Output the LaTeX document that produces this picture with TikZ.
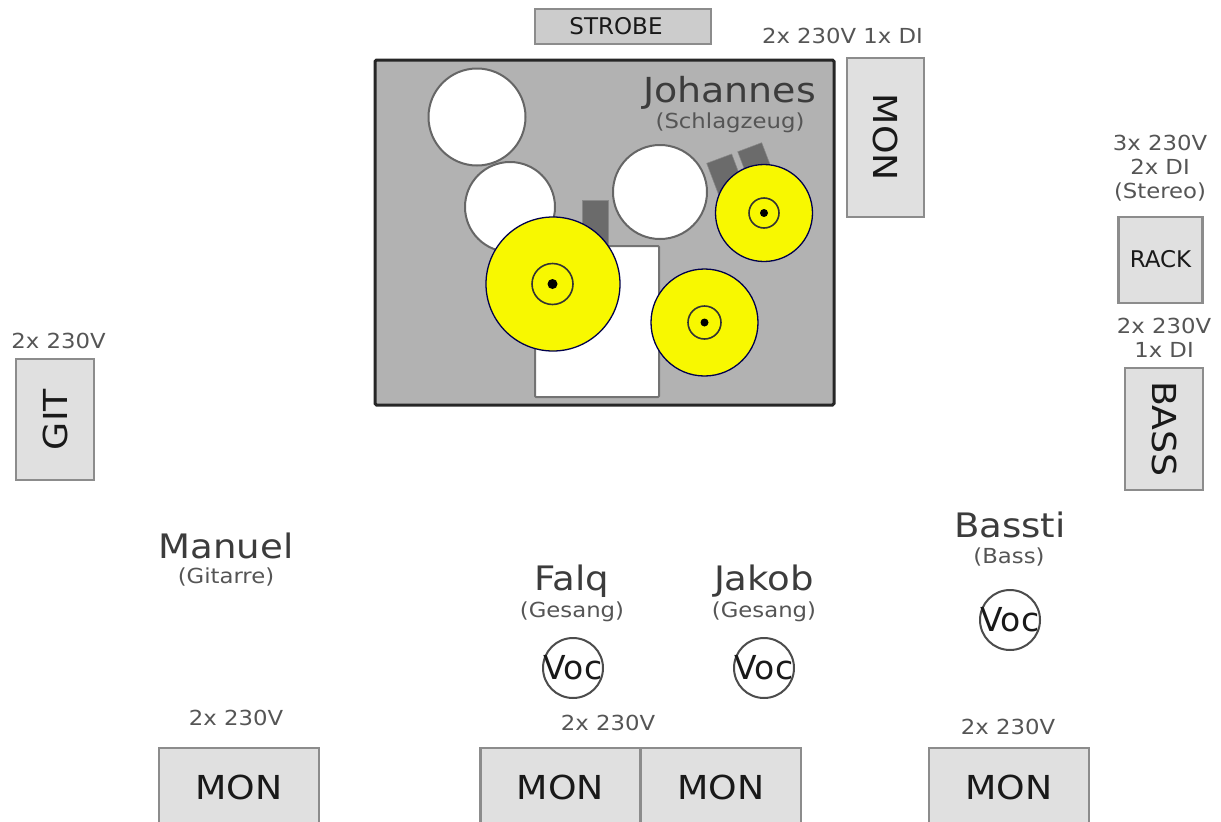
\documentclass[tikz,border=0pt]{standalone}
\usepackage{fontspec}
\setmainfont[FakeStretch=1.1]{DejaVu Sans}
\newfontfamily\plainfont{DejaVu Sans}
\definecolor{boxfill}{HTML}{E0E0E0}
\definecolor{boxline}{HTML}{8C8C8C}
\definecolor{stagefill}{HTML}{B2B2B2}
\definecolor{pedal}{HTML}{6B6B6B}
\definecolor{cym}{HTML}{F8F800}
\definecolor{txt}{HTML}{555555}
\definecolor{nametxt}{HTML}{3C3C3C}
\begin{document}
\begin{tikzpicture}[x=1pt,y=-1pt,
  gear/.style={draw=boxline,line width=2.4pt,fill=boxfill,inner sep=0pt,text=black!90,font=\fontsize{33}{33}\selectfont},
  smallgear/.style={gear,font=\plainfont\fontsize{23}{23}\selectfont},
  note/.style={inner sep=0pt,align=center,text=txt,font=\fontsize{20.7}{24}\selectfont},
  person/.style={inner sep=0pt,text=nametxt,font=\fontsize{33.7}{33.7}\selectfont},
  role/.style={inner sep=0pt,text=txt,font=\fontsize{20.7}{20.7}\selectfont},
  drum/.style={circle,draw=black!60,line width=2pt,fill=white,inner sep=0pt},
  cymbal/.style={circle,draw=black!70!blue,line width=1.3pt,fill=cym,inner sep=0pt},
  bell/.style={circle,draw=black!80,line width=1.6pt,inner sep=0pt},
  hub/.style={circle,fill=black,inner sep=0pt},
  vocal/.style={circle,draw=black!70,line width=2pt,fill=white,inner sep=0pt,minimum size=60pt,text=black!90,font=\plainfont\fontsize{33}{33}\selectfont},
  stagebox/.style={draw=black!85,line width=3pt,fill=stagefill,rounded corners=1.5pt},
  pedalbox/.style={fill=pedal,draw=pedal!80!white,line width=.5pt}]
\useasboundingbox (0,0) rectangle (1221,822);
\node[smallgear,fill=black!20,minimum width=176pt,minimum height=35pt] (strobe) at (623,26.5) {\hspace{-14pt}STROBE};
\draw[stagebox] (375,60) rectangle (834,405);
\node[drum,minimum size=97pt] (tomA) at (477,117) {};
\node[drum,minimum size=90pt] (tomB) at (510,207) {};
\node[drum,minimum size=94pt] (tomC) at (660,192) {};
\draw[pedalbox] (582,200) rectangle (608,250);
\draw[pedalbox] (706.7,163.3) -- (731.7,154) -- (746,192) -- (721,201) -- cycle;
\draw[pedalbox] (737.7,151.7) -- (761.7,142.7) -- (776,180) -- (752,189) -- cycle;
\draw[draw=black!55,line width=2pt,fill=white,rounded corners=1pt] (535,246) rectangle (659,397);
\node[cymbal,minimum size=134pt] (cymA) at (553,284) {};
\node[bell,minimum size=41pt] (bellA) at (552.5,284) {};
\node[hub,minimum size=10pt] (hubA) at (552.5,284) {};
\node[cymbal,minimum size=107pt] (cymB) at (704.5,322.5) {};
\node[bell,minimum size=33pt] (bellB) at (704.5,322.5) {};
\node[hub,minimum size=8pt] (hubB) at (704.5,322.5) {};
\node[cymbal,minimum size=97pt] (cymC) at (764,213) {};
\node[bell,minimum size=30pt] (bellC) at (764,213) {};
\node[hub,minimum size=8pt] (hubC) at (764,213) {};
\node[person,font=\fontsize{34.5}{34.5}\selectfont] (johannes) at (729.5,93) {Johannes};
\node[role] (schlagzeug) at (730,123) {(Schlagzeug)};
\node[gear,rotate=-90,minimum width=159pt,minimum height=77pt] (monD) at (885.5,137.5) {MON};
\node[note] (noteD) at (842.5,36) {2x 230V 1x DI};
\node[note] (noteR) at (1160,168) {3x 230V\\2x DI\\(Stereo)};
\node[gear,font=\plainfont\fontsize{23}{23}\selectfont,minimum width=84pt,minimum height=86pt] (rack) at (1160.5,260) {\raisebox{3pt}{RACK}};
\node[note] (noteB) at (1164,338) {2x 230V\\1x DI};
\node[gear,rotate=-90,minimum width=122pt,minimum height=78pt] (bass) at (1164,429) {BASS};
\node[note] (noteG) at (58.5,341) {2x 230V};
\node[gear,rotate=90,minimum width=121pt,minimum height=78pt] (git) at (55,419.5) {GIT};
\node[person] (manuel) at (226,546) {Manuel};
\node[role] (gitarre) at (226,577) {(Gitarre)};
\node[person] (falq) at (572,581) {Falq};
\node[role] (gesangF) at (572,612) {(Gesang)};
\node[person] (jakob) at (764,581) {Jakob};
\node[role] (gesangJ) at (764,612) {(Gesang)};
\node[person] (bassti) at (1010,525) {Bassti};
\node[role] (bassR) at (1009,557) {(Bass)};
\node[vocal] (vocF) at (573,668) {\makebox[0pt]{Voc}};
\node[vocal] (vocJ) at (764,668) {\makebox[0pt]{Voc}};
\node[vocal] (vocB) at (1010,620) {\makebox[0pt]{Voc}};
\node[note] (noteM) at (236,718) {2x 230V};
\node[note] (noteF) at (608,723) {2x 230V};
\node[note] (noteA) at (1008,727) {2x 230V};
\node[gear,minimum width=160pt,minimum height=78pt] (monM) at (239,787) {MON};
\node[gear,minimum width=160pt,minimum height=78pt] (monF) at (560.5,787) {MON};
\node[gear,minimum width=160pt,minimum height=78pt] (monJ) at (721,787) {MON};
\node[gear,minimum width=160pt,minimum height=78pt] (monA) at (1009,787) {MON};
\end{tikzpicture}
\end{document}
